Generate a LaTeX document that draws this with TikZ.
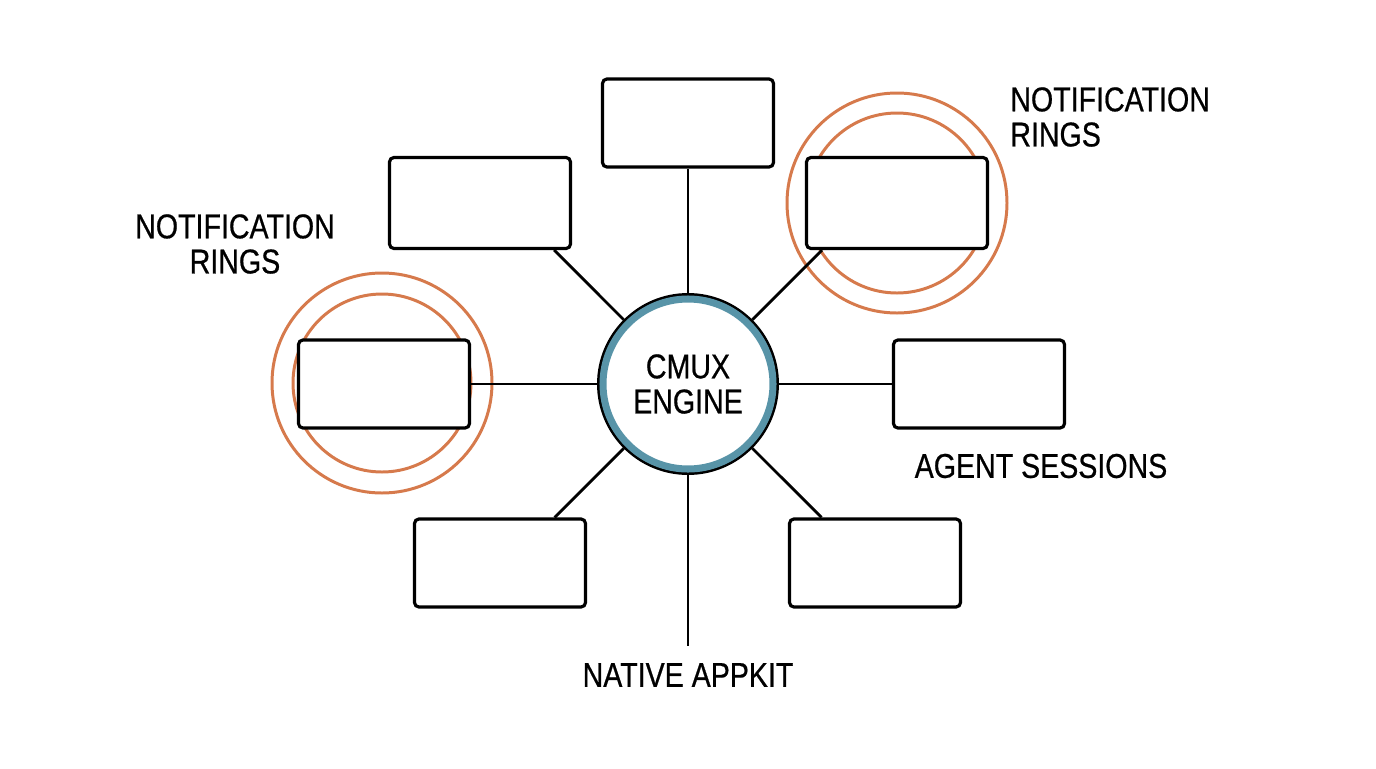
\documentclass[tikz,border=0pt]{standalone}
\usepackage{fontspec}
\setmainfont{Liberation Sans}[FakeStretch=0.83, FakeBold=0.6]
\usepackage{tikz}
\usetikzlibrary{positioning, backgrounds}
\definecolor{hubteal}{RGB}{88,148,168}
\definecolor{ringorange}{RGB}{214,122,76}
\newcommand{\lbl}{\fontsize{19.6}{20}\selectfont}

\begin{document}
\begin{tikzpicture}[x=0.02cm, y=-0.02cm,
    panel/.style={draw, rounded corners=2.5pt, line width=1.8pt, fill=white, minimum width=3.42cm, minimum height=1.76cm},
    wire/.style={line width=1.6pt},
    ring/.style={draw=ringorange, line width=1.7pt},
    caption/.style={font=\lbl, inner sep=0pt}]
    \useasboundingbox (0,0) rectangle (1376,768);

    \node[draw, circle, line width=1.7pt, fill=white, minimum size=3.58cm, align=center, font=\lbl] (hub) at (688,384) {CMUX\\ENGINE};
    \draw[hubteal, line width=4pt] (hub) circle[radius=85];

    \node[panel] (top) at (688,123) {};
    \node[panel, minimum width=3.62cm, minimum height=1.82cm] (ul) at (480,203) {};
    \node[panel, minimum width=3.62cm, minimum height=1.82cm] (ur) at (897,203) {};
    \node[panel] (left) at (384,384) {};
    \node[panel] (right) at (979,384) {};
    \node[panel] (ll) at (500,563) {};
    \node[panel] (lr) at (875,563) {};

    \node[caption, align=center] (ringsL) at (235,244) {NOTIFICATION\\RINGS};
    \node[caption, align=left, anchor=west] (ringsR) at (1010,117) {NOTIFICATION\\RINGS};
    \node[caption] (agents) at (1041,466) {AGENT SESSIONS};
    \node[caption, inner ysep=9.5pt] (appkit) at (688,675) {NATIVE APPKIT};

    \begin{pgfonlayer}{background}
        \draw[ring] (382,383) circle[radius=110];
        \draw[ring] (382,383) circle[radius=89];
        \draw[ring] (897,203) circle[radius=110];
        \draw[ring] (897,203) circle[radius=90];
    \end{pgfonlayer}

    \draw[wire] (hub.north) -- (top.south);
    \draw[wire] (hub.west) -- (left.east);
    \draw[wire] (hub.east) -- (right.west);
    \draw[wire] (hub.south) -- (appkit.north);
    \draw[wire] (hub.135) -- (intersection of hub.center--hub.135 and ul.south west--ul.south east);
    \draw[wire] (hub.45) -- (intersection of hub.center--hub.45 and ur.south west--ur.south east);
    \draw[wire] (hub.-135) -- (intersection of hub.center--hub.-135 and ll.north west--ll.north east);
    \draw[wire] (hub.-45) -- (intersection of hub.center--hub.-45 and lr.north west--lr.north east);
\end{tikzpicture}
\end{document}
